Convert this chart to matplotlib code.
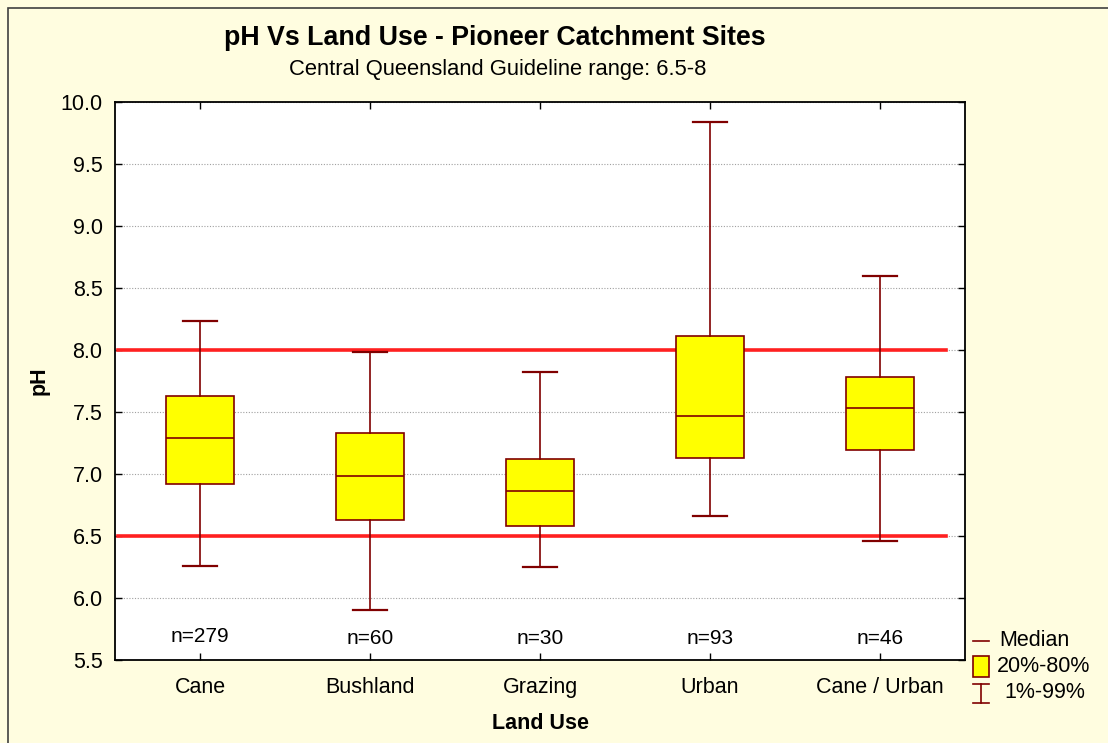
import matplotlib
matplotlib.use("Agg")
import matplotlib.pyplot as plt
from matplotlib.patches import Rectangle
from matplotlib.lines import Line2D

plt.rcParams['font.family'] = ['Liberation Sans', 'DejaVu Sans']

categories = ["Cane", "Bushland", "Grazing", "Urban", "Cane / Urban"]
p01 = [6.26, 5.90, 6.25, 6.66, 6.46]
p20 = [6.92, 6.63, 6.58, 7.13, 7.19]
median = [7.29, 6.98, 6.86, 7.47, 7.53]
p80 = [7.63, 7.33, 7.12, 8.11, 7.78]
p99 = [8.23, 7.98, 7.82, 9.84, 8.60]
n_labels = ["n=279", "n=60", "n=30", "n=93", "n=46"]
n_y = [5.69, 5.67, 5.67, 5.67, 5.67]
guideline = [6.5, 8.0]
yticks = [5.5, 6.0, 6.5, 7.0, 7.5, 8.0, 8.5, 9.0, 9.5, 10.0]

BG = "#FFFDE0"
DARKRED = "#800000"
FS = 15.5

W, H = 1108, 743
fig = plt.figure(figsize=(W / 100, H / 100), dpi=100, facecolor=BG)

# figure frame (only left/top visible in the reference)
fig.patches.append(Rectangle((8 / W, -0.1), 1.2, (1 - 8 / H) + 0.1, transform=fig.transFigure,
                             fill=False, edgecolor="#404040", linewidth=1.2))

ax = fig.add_axes([115 / W, 1 - 660 / H, (965 - 115) / W, (660 - 102) / H], facecolor="white")

stats = []
for i, c in enumerate(categories):
    stats.append(dict(label=c, whislo=p01[i], q1=p20[i], med=median[i], q3=p80[i], whishi=p99[i], fliers=[]))
pos = list(range(1, len(categories) + 1))
ax.bxp(stats, positions=pos, widths=0.4, patch_artist=True, showfliers=False,
       boxprops=dict(facecolor="#FFFF00", edgecolor=DARKRED, linewidth=1.2),
       medianprops=dict(color=DARKRED, linewidth=1.2),
       whiskerprops=dict(color=DARKRED, linewidth=1.2),
       capprops=dict(color=DARKRED, linewidth=1.6),
       capwidths=0.2, zorder=3)

for g in guideline:
    ax.axhline(g, xmin=0.003, xmax=0.978, color="#FF2020", linewidth=2.6, zorder=2)

for i, t in enumerate(n_labels):
    ax.text(pos[i], n_y[i], t, ha="center", va="center", fontsize=15, color="black")

ax.set_xlim(0.5, 5.5)
ax.set_ylim(5.5, 10.0)
ax.set_yticks(yticks)
ax.set_yticklabels([f"{v:.1f}" for v in yticks], fontsize=FS)
ax.set_xticks(pos)
ax.set_xticklabels(categories, fontsize=FS)
ax.tick_params(axis="both", direction="in", length=5, width=1, top=True, right=True, pad=9)
ax.tick_params(axis="x", pad=12)
ax.yaxis.grid(True, linestyle=(0, (1, 1.5)), color="#A0A0A0", linewidth=0.8)
ax.set_axisbelow(True)
for s in ax.spines.values():
    s.set_linewidth(1.3)
    s.set_color("black")

ax.set_xlabel("Land Use", fontsize=FS, fontweight="bold", labelpad=11)
ax.set_ylabel("pH", fontsize=FS, fontweight="bold", labelpad=8)

fig.text(495 / W, 1 - 38 / H, "pH Vs Land Use - Pioneer Catchment Sites", ha="center", va="center",
         fontsize=19.3, fontweight="bold")
fig.text(498 / W, 1 - 69 / H, "Central Queensland Guideline range: 6.5-8", ha="center", va="center",
         fontsize=15.8)

# legend
lax = fig.add_axes([960 / W, 1 - 712 / H, 148 / W, 87 / H])
lax.set_xlim(960, 1108)
lax.set_ylim(712, 625)
lax.axis("off")
lax.add_line(Line2D([973, 989], [641, 641], color=DARKRED, linewidth=1.2))
lax.text(999, 641, "Median", va="center", ha="left", fontsize=FS)
lax.add_patch(Rectangle((973, 656), 16, 21, facecolor="#FFFF00", edgecolor=DARKRED, linewidth=1.2))
lax.text(997, 666, "20%-80%", va="center", ha="left", fontsize=FS)
lax.add_line(Line2D([981, 981], [684, 703], color=DARKRED, linewidth=1.2))
lax.add_line(Line2D([973, 989], [684, 684], color=DARKRED, linewidth=1.2))
lax.add_line(Line2D([973, 989], [703, 703], color=DARKRED, linewidth=1.2))
lax.text(1004, 693, "1%-99%", va="center", ha="left", fontsize=FS)

fig.savefig("out.png", dpi=100, facecolor=BG)
